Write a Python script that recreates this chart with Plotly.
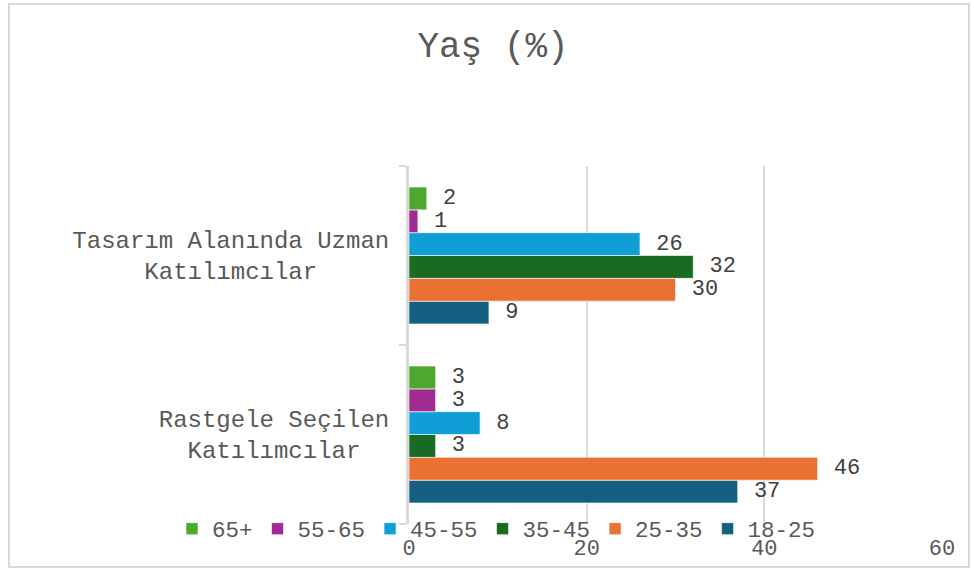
import plotly.graph_objects as go

NB = "\u00a0"
categories = [
    "Rastgele Seçilen<br>" + NB * 2 + "Katılımcılar" + NB * 2,
    "Tasarım Alanında Uzman<br>" + NB * 5 + "Katılımcılar" + NB * 5,
]
# series in bottom-to-top order within each category
series_names = ["18-25", "25-35", "35-45", "45-55", "55-65", "65+"]
values_rastgele = [37, 46, 3, 8, 3, 3]
values_tasarim = [9, 30, 32, 26, 1, 2]
colors = ["#156082", "#E97132", "#196B24", "#0F9ED5", "#A02B93", "#4EA72E"]
x_ticks = [0, 20, 40, 60]

FONT = "Liberation Mono, Courier New, monospace"
GREY = "#595959"

fig = go.Figure()
for i, name in enumerate(series_names):
    vals = [values_rastgele[i], values_tasarim[i]]
    fig.add_trace(go.Bar(
        y=categories, x=vals, name=name, orientation="h",
        marker=dict(color=colors[i], line=dict(color="rgba(255,255,255,0.6)", width=1)),
        text=vals, texttemplate=NB + "%{x}", textposition="outside",
        textfont=dict(family=FONT, size=22, color="#404040"),
        constraintext="none", cliponaxis=False,
    ))

W, H = 974, 570
L, R, T, B = 409, 32, 166, 46
pw, ph = W - L - R, H - T - B

def px_x(p):
    return (p - L) / pw

def px_y(p):
    return (H - B - p) / ph

fig.update_layout(
    width=W, height=H,
    margin=dict(l=L, r=R, t=T, b=B, autoexpand=False),
    paper_bgcolor="white", plot_bgcolor="white",
    barmode="group", bargap=0.235, bargroupgap=0,
    font=dict(family=FONT, color=GREY, size=22),
    title=dict(text="Yaş (%)", x=493 / W, y=1 - 44 / H, xref="container", yref="container",
               xanchor="center", yanchor="middle",
               font=dict(family=FONT, size=36, color=GREY)),
    showlegend=True,
    legend=dict(orientation="h", traceorder="reversed", x=px_x(172), xanchor="left",
                y=px_y(529), yanchor="middle", bgcolor="rgba(0,0,0,0)",
                font=dict(family=FONT, size=22.5, color=GREY), itemclick=False),
    xaxis=dict(range=[0, 60], tickvals=x_ticks, showgrid=True, gridcolor="#d9d9d9", gridwidth=2,
               zeroline=False, showline=False, ticks="", ticklabelstandoff=8,
               tickfont=dict(family=FONT, size=22, color=GREY), automargin=False),
    yaxis=dict(type="category", showline=True, linecolor="#d9d9d9", linewidth=3,
               ticks="outside", tickson="boundaries", ticklen=7, tickcolor="#d9d9d9", tickwidth=2,
               ticklabelstandoff=12,
               showgrid=False, tickfont=dict(family=FONT, size=24, color=GREY), automargin=False),
    shapes=[dict(type="rect", xref="paper", yref="paper",
                 x0=px_x(9), x1=px_x(969), y0=px_y(567), y1=px_y(4),
                 line=dict(color="#d9d9d9", width=2), fillcolor="rgba(0,0,0,0)", layer="below")],
)

fig.write_html("out.html", config={"displayModeBar": False},
               post_script="document.body.style.margin='0';")
